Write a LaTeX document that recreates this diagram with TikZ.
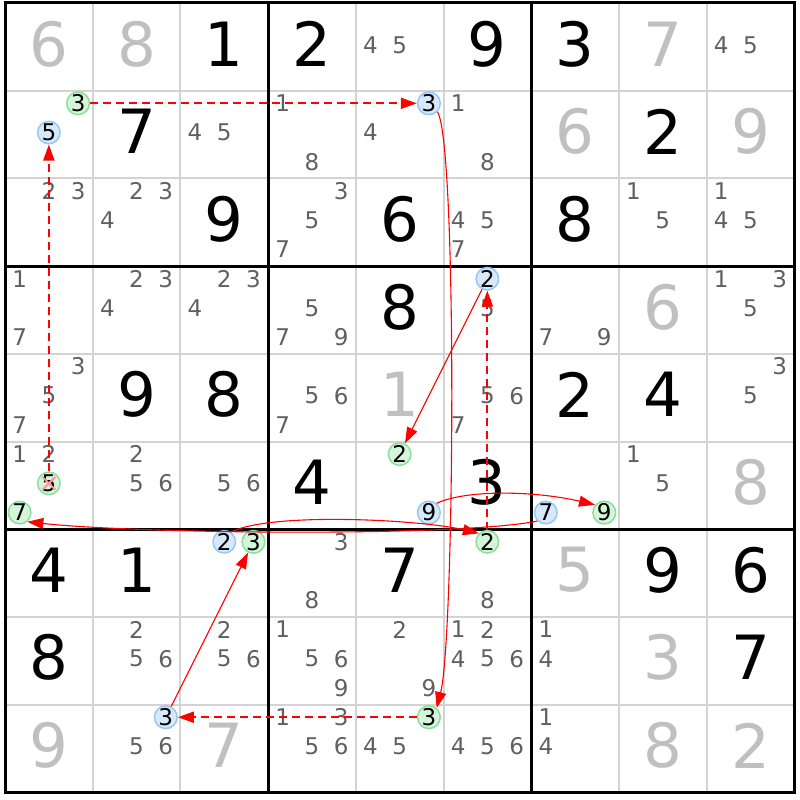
\documentclass[tikz,border=0pt]{standalone}
\usepackage{fontspec}
\setmainfont{DejaVu Sans}
\usetikzlibrary{arrows.meta}
\definecolor{givengrey}{RGB}{192,192,192}
\definecolor{candgrey}{RGB}{96,96,96}
\definecolor{gridgrey}{RGB}{211,211,211}
\definecolor{bluefill}{RGB}{214,232,250}
\definecolor{blueline}{RGB}{150,200,245}
\definecolor{greenfill}{RGB}{212,245,218}
\definecolor{greenline}{RGB}{140,222,155}
\definecolor{chainred}{RGB}{255,0,0}
\definecolor{xred}{RGB}{255,150,150}
\newcommand\candpos[3]{%
  \pgfmathsetmacro\cx{5+(#2-1)*87.7+(mod(#3-1,3)+0.5)*29.233}%
  \pgfmathsetmacro\cy{3+(#1-1)*87.7+(floor((#3-1)/3)+0.5)*29.233-2}%
}
\newcommand\cands[3]{\foreach \dd in {#3}{\candpos{#1}{#2}{\dd}\node[cand] (n#1#2\dd) at (\cx,\cy) {\dd};}}
\newcommand\hlc[4]{\candpos{#1}{#2}{#3}\node[#4] (n#1#2#3) at (\cx,\cy) {#3};}
\begin{document}
\begin{tikzpicture}[x=1pt,y=-1pt,
  given/.style={inner sep=0pt, font=\fontsize{61}{61}\selectfont, text=black},
  greygiven/.style={given, text=givengrey},
  cand/.style={inner sep=0pt, font=\fontsize{23}{23}\selectfont, text=candgrey},
  bluec/.style={circle, inner sep=0pt, minimum size=22.5pt, line width=1.5pt, draw=blueline, fill=bluefill, text=black, font=\fontsize{23}{23}\selectfont},
  greenc/.style={bluec, draw=greenline, fill=greenfill},
  strong/.style={color=chainred, line width=1.1pt, -{Triangle[length=16pt,width=11pt]}},
  weak/.style={color=chainred, line width=2pt, dash pattern=on 8pt off 5pt, -{Triangle[length=16pt,width=11pt]}}]
\useasboundingbox (0,0) rectangle (800,800);
\fill[white] (0,0) rectangle (800,800);
% grid
\foreach \i in {1,2,4,5,7,8}{
  \draw[gridgrey, line width=2pt] ({5+\i*87.7},3) -- ({5+\i*87.7},{3+9*87.7});
  \draw[gridgrey, line width=2pt] (5,{3+\i*87.7}) -- ({5+9*87.7},{3+\i*87.7});
}
\foreach \i in {0,3,6,9}{
  \draw[black, line width=3pt] ({5+\i*87.7},1.5) -- ({5+\i*87.7},{4.5+9*87.7});
  \draw[black, line width=3pt] (3.5,{3+\i*87.7}) -- ({6.5+9*87.7},{3+\i*87.7});
}
% givens
\foreach \r/\c/\d in {1/3/1,1/4/2,1/6/9,1/7/3,2/2/7,2/8/2,3/3/9,3/5/6,3/7/8,4/5/8,5/2/9,5/3/8,5/7/2,5/8/4,6/4/4,6/6/3,7/1/4,7/2/1,7/5/7,7/8/9,7/9/6,8/1/8,8/9/7}
  \node[given] (g\r\c) at ({5+(\c-0.5)*87.7},{3+(\r-0.5)*87.7-3}) {\d};
\foreach \r/\c/\d in {1/1/6,1/2/8,1/8/7,2/7/6,2/9/9,4/8/6,5/5/1,6/9/8,7/7/5,8/8/3,9/1/9,9/3/7,9/8/8,9/9/2}
  \node[greygiven] (g\r\c) at ({5+(\c-0.5)*87.7},{3+(\r-0.5)*87.7-3}) {\d};
% candidates
\cands{1}{5}{4,5}\cands{1}{9}{4,5}
\cands{2}{3}{4,5}\cands{2}{4}{1,8}\cands{2}{5}{4}\cands{2}{6}{1,8}
\cands{3}{1}{2,3}\cands{3}{2}{2,3,4}\cands{3}{4}{3,5,7}\cands{3}{6}{4,5,7}\cands{3}{8}{1,5}\cands{3}{9}{1,4,5}
\cands{4}{1}{1,7}\cands{4}{2}{2,3,4}\cands{4}{3}{2,3,4}\cands{4}{4}{5,7,9}\cands{4}{6}{5}\cands{4}{7}{7,9}\cands{4}{9}{1,3,5}
\cands{5}{1}{3,5,7}\cands{5}{4}{5,6,7}\cands{5}{6}{5,6,7}\cands{5}{9}{3,5}
\cands{6}{1}{1,2}\cands{6}{2}{2,5,6}\cands{6}{3}{5,6}\cands{6}{8}{1,5}
\cands{7}{4}{3,8}\cands{7}{6}{8}
\cands{8}{2}{2,5,6}\cands{8}{3}{2,5,6}\cands{8}{4}{1,5,6,9}\cands{8}{5}{2,9}\cands{8}{6}{1,2,4,5,6}\cands{8}{7}{1,4}
\cands{9}{2}{5,6}\cands{9}{4}{1,3,5,6}\cands{9}{5}{4,5}\cands{9}{6}{4,5,6}\cands{9}{7}{1,4}
% highlighted candidates
\hlc{2}{1}{3}{greenc}\hlc{2}{1}{5}{bluec}
\hlc{2}{5}{3}{bluec}
\hlc{4}{6}{2}{bluec}
\hlc{6}{1}{5}{greenc}\hlc{6}{1}{7}{greenc}
\hlc{6}{5}{2}{greenc}\hlc{6}{5}{9}{bluec}
\hlc{6}{7}{7}{bluec}\hlc{6}{7}{9}{greenc}
\hlc{7}{3}{2}{bluec}\hlc{7}{3}{3}{greenc}
\hlc{7}{6}{2}{greenc}
\hlc{9}{2}{3}{bluec}
\hlc{9}{5}{3}{greenc}
% elimination mark
\draw[xred, line width=2pt] (n615.center) ++(-6.5,-6.5) -- ++(13,13);
\draw[xred, line width=2pt] (n615.center) ++(6.5,-6.5) -- ++(-13,13);
% chain
\draw[weak] (n615) -- (n215);
\draw[weak] (n213) -- (n253);
\draw[strong] (n253.-45) .. controls +(20,30) and +(18,-70) .. (n953.50);
\draw[weak] (n953) -- (n923);
\draw[strong] (n923) -- (n733);
\draw[strong] (n732.55) .. controls +(40,-20) and +(-60,-14) .. (n762.135);
\draw[weak] (n762) -- (n462);
\draw[strong] (n462) -- (n652);
\draw[strong] (n659.50) .. controls +(30,-14) and +(-60,-14) .. (n679.140);
\draw[strong] (n677.225) .. controls +(-80,16) and +(110,12) .. (n617.-50);
\end{tikzpicture}
\end{document}
